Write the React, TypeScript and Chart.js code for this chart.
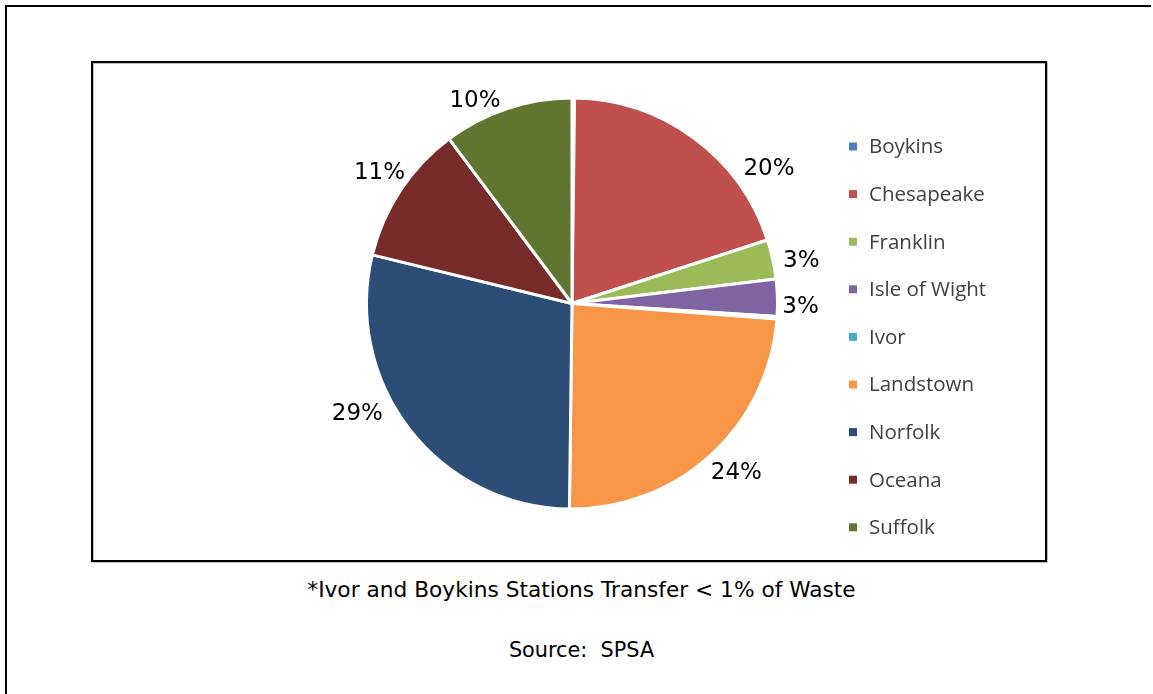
import React, { useEffect, useRef } from "react";
import { Chart, registerables } from "chart.js";

Chart.register(...registerables);

// ---- data ----
const categories = [
  "Boykins",
  "Chesapeake",
  "Franklin",
  "Isle of Wight",
  "Ivor",
  "Landstown",
  "Norfolk",
  "Oceana",
  "Suffolk",
];
const shares = [0.2, 19.8, 3.1, 2.9, 0.2, 24.0, 28.6, 11.0, 10.2];
const shareLabels = ["", "20%", "3%", "3%", "", "24%", "29%", "11%", "10%"];
const footnote = "*Ivor and Boykins Stations Transfer < 1% of Waste";
const sourceNote = "Source:  SPSA";

// ---- styles ----
const sliceColors = [
  "#4F81BD",
  "#C0504D",
  "#9BBB59",
  "#8064A2",
  "#4BACC6",
  "#F79646",
  "#2C4D75",
  "#772C2A",
  "#5F7530",
];
// label placement tweaks (degrees shift from slice middle, gap beyond outer radius)
const labelShiftDeg = [0, 19, 1.5, 2, 0, -2, 11, 1, -7];
const labelGap = [30, 34, 28, 23, 30, 29, 35, 28, 21];

const CANVAS_W = 952;
const CANVAS_H = 497;

const sliceLabelPlugin = {
  id: "sliceLabels",
  afterDatasetsDraw(chart: any) {
    const ctx = chart.ctx;
    const meta = chart.getDatasetMeta(0);
    ctx.save();
    ctx.font = '23px "DejaVu Sans"';
    ctx.fillStyle = "#000";
    ctx.textAlign = "center";
    ctx.textBaseline = "middle";
    meta.data.forEach((arc: any, i: number) => {
      const text = shareLabels[i];
      if (!text) return;
      const p = arc.getProps(["x", "y", "startAngle", "endAngle", "outerRadius"], true);
      const mid = (p.startAngle + p.endAngle) / 2 + (labelShiftDeg[i] * Math.PI) / 180;
      const r = p.outerRadius + labelGap[i];
      ctx.fillText(text, p.x + Math.cos(mid) * r, p.y + Math.sin(mid) * r + 2);
    });
    ctx.restore();
  },
};

const sideLegendPlugin = {
  id: "sideLegend",
  afterDraw(chart: any) {
    const ctx = chart.ctx;
    const boxX = 756;
    const textX = 776;
    const firstY = 83.5;
    const step = 47.6;
    ctx.save();
    ctx.font = '20.5px "Open Sans"';
    ctx.textAlign = "left";
    ctx.textBaseline = "middle";
    categories.forEach((name, i) => {
      const cy = firstY + i * step;
      ctx.fillStyle = sliceColors[i];
      ctx.fillRect(boxX, cy - 4, 8, 8);
      ctx.fillStyle = "#404040";
      ctx.fillText(name, textX, cy + 1);
    });
    ctx.restore();
  },
};

function PieChart() {
  const ref = useRef<HTMLCanvasElement | null>(null);
  useEffect(() => {
    if (!ref.current) return;
    const chart = new Chart(ref.current, {
      type: "pie",
      data: {
        labels: categories,
        datasets: [
          {
            data: shares,
            backgroundColor: sliceColors,
            borderColor: "#ffffff",
            borderWidth: 3,
          },
        ],
      },
      options: {
        responsive: false,
        animation: false,
        devicePixelRatio: 1,
        rotation: 0,
        layout: {
          padding: { left: 272, top: 33.5, right: 266, bottom: 49.5 },
        },
        plugins: {
          legend: { display: false },
          tooltip: { enabled: false },
        },
      },
      plugins: [sliceLabelPlugin, sideLegendPlugin],
    });
    return () => chart.destroy();
  }, []);
  return (
    <canvas
      ref={ref}
      width={CANVAS_W}
      height={CANVAS_H}
      style={{ position: "absolute", left: 93, top: 63, width: CANVAS_W, height: CANVAS_H, display: "block" }}
    />
  );
}

export default function App() {
  const noteStyle: React.CSSProperties = {
    position: "absolute",
    left: 231.5,
    width: 700,
    textAlign: "center",
    fontFamily: '"DejaVu Sans", sans-serif',
    lineHeight: "24px",
    color: "#000",
    whiteSpace: "pre",
  };
  return (
    <div
      style={{
        position: "fixed",
        left: 0,
        top: 0,
        width: 1153,
        height: 694,
        overflow: "hidden",
        background: "#fff",
      }}
    >
      <div
        style={{
          position: "absolute",
          left: 5,
          top: 5,
          width: 1146,
          height: 800,
          borderTop: "2px solid #000",
          borderLeft: "2px solid #000",
          boxSizing: "border-box",
        }}
      />
      <div
        style={{
          position: "absolute",
          left: 91,
          top: 61,
          width: 956,
          height: 501,
          border: "2px solid #000",
          boxSizing: "border-box",
          boxShadow: "1px 1px 0 #bbb, inset 1px 1px 0 #bbb",
        }}
      />
      <PieChart />
      <div style={{ ...noteStyle, top: 578, fontSize: 21.7 }}>{footnote}</div>
      <div style={{ ...noteStyle, top: 638, fontSize: 20.8 }}>{sourceNote}</div>
    </div>
  );
}
